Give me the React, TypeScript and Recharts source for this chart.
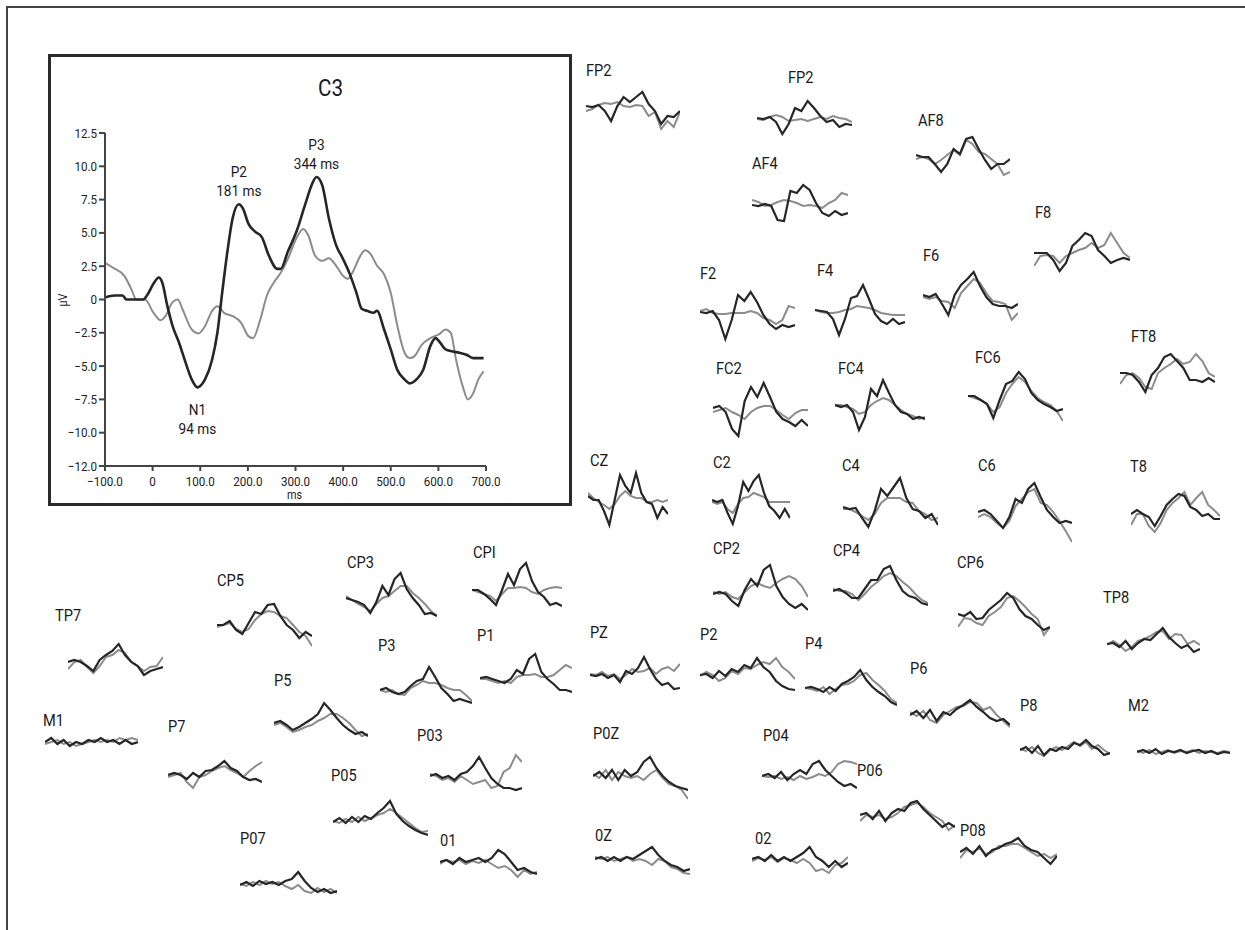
import React from "react";
import { LineChart, Line, XAxis, YAxis, ReferenceDot } from "recharts";

const FONT = "Roboto, 'Liberation Sans', sans-serif";
const DARK = "#262626";
const LIGHT = "#8c8c8c";

// C3 panel: dark and light waveforms (ms, µV)
const C3_DARK_MS = [-100, -80, -63, -55, -20, -12, 2, 13, 20, 31, 42, 56, 67, 82, 94, 100, 110, 125, 136, 146, 157, 168, 181, 190, 201, 215, 229, 244, 262, 269, 284, 302, 320, 334, 344, 356, 370, 385, 399, 413, 428, 439, 450, 464, 471, 486, 500, 514, 529, 540, 554, 568, 583, 594, 605, 615, 630, 644, 659, 673, 695];
const C3_DARK_UV = [0.15, 0.3, 0.3, 0, 0, 0.3, 1.2, 1.65, 1.3, -0.5, -2.0, -3.3, -4.5, -6.0, -6.6, -6.5, -6.0, -4.5, -2.5, 0.5, 3.6, 6.1, 7.15, 6.8, 5.7, 5.1, 4.7, 3.3, 2.3, 2.3, 3.6, 5.1, 7.1, 8.6, 9.2, 8.6, 6.1, 4.1, 3.1, 2.0, 0.5, -0.7, -0.85, -1.0, -0.85, -2.25, -3.75, -5.3, -6.0, -6.3, -6.0, -5.3, -3.5, -2.9, -3.3, -3.75, -3.9, -4.0, -4.15, -4.4, -4.4];
const C3_LIGHT_MS = [-100, -84, -59, -45, -34, -16, 2, 17, 27, 42, 53, 63, 82, 96, 110, 125, 136, 150, 168, 186, 201, 211, 226, 240, 255, 269, 284, 302, 316, 327, 341, 356, 370, 385, 399, 410, 420, 435, 446, 457, 471, 486, 500, 514, 529, 540, 550, 565, 583, 602, 615, 626, 637, 651, 662, 673, 684, 695];
const C3_LIGHT_UV = [2.75, 2.4, 1.75, 0.8, 0, 0, -1.0, -1.55, -1.25, -0.2, 0, -0.75, -2.25, -2.55, -2.0, -0.85, -0.5, -1.0, -1.25, -1.75, -2.75, -2.9, -1.5, 0.3, 1.3, 2.0, 3.05, 4.6, 5.3, 4.8, 3.3, 2.9, 3.1, 2.55, 1.8, 1.55, 2.05, 3.2, 3.7, 3.45, 2.55, 1.9, 0.5, -2.0, -4.0, -4.4, -4.25, -3.4, -2.9, -2.6, -2.25, -2.5, -4.5, -6.5, -7.5, -7.05, -6.0, -5.4];
const X_TICKS = [-100, 0, 100, 200, 300, 400, 500, 600, 700];
// the bottom tick sits at -12.5 but the figure prints it as -12.0
const Y_TICKS = [-12.5, -10, -7.5, -5, -2.5, 0, 2.5, 5, 7.5, 10, 12.5];
const Y_BOTTOM_TEXT = "\u221212.0";
const PEAK_NAMES = ["P2", "P3", "N1"];
const PEAK_MS = [181, 344, 94];
const PEAK_UV = [7.15, 9.2, -6.6];

// electrode traces (16 samples each, dark = first condition, light = second)
const FP2A_D = [4, 3, 5, -1, -11, 4, 13, 8, 13, 18, 6, -1, -14, -6, -7, -1];
const FP2A_L = [-1, 1, 5, 7, 6, 8, 4, 3, 5, 4, -6, -2, -19, -11, -17, -2];
const FP2B_D = [0, -1, 1, -4, -16, -6, 10, 7, 17, 10, 2, -4, -2, -9, -6, -7];
const FP2B_L = [-1, -2, 1, 3, 1, -3, -2, -1, -3, -1, 1, -1, 2, 0, -1, -4];
const AF4_D = [-2, -3, -1, -3, -17, -18, 12, 10, 18, 13, 0, -10, -13, -8, -12, -10];
const AF4_L = [3, 1, -3, -2, 1, 3, 2, 0, -3, -2, -3, -5, 0, 3, 10, 8];
const AF8_D = [2, 0, 0, -7, -15, -7, 8, 3, 18, 20, 8, -3, -12, -7, -7, -2];
const AF8_L = [-2, 0, -2, -7, -3, 2, 7, 2, 17, 13, 5, 3, -2, -7, -18, -15];
const F8_D = [0, 0, 0, -7, -18, -10, 7, 13, 20, 17, 3, -3, -10, -7, -5, -7];
const F8_L = [-13, -3, -2, -3, -10, -3, 0, 3, 5, 10, 5, 8, 20, 10, 0, -5];
const F2_D = [1, 0, 2, -7, -26, -7, 18, 12, 21, 11, -2, -11, -16, -12, -14, -12];
const F2_L = [2, 4, 0, -1, -1, 0, 0, 0, 2, 0, -5, -7, -11, -7, 7, 5];
const F4_D = [0, -1, -2, -9, -25, -9, 12, 14, 25, 11, -4, -11, -14, -9, -14, -12];
const F4_L = [0, -2, -3, -3, -2, 0, 1, 4, 3, 2, 0, -3, -4, -5, -5, -5];
const F6_D = [2, 0, 3, -7, -18, 2, 12, 18, 25, 11, 0, -7, -9, -9, -11, -7];
const F6_L = [0, -2, 0, -4, -5, -11, 4, 11, 18, 14, 4, -4, -5, -7, -23, -16];
const FT8_D = [0, 0, -2, -9, -19, -2, 5, 16, 19, 12, 5, -7, -7, -9, -5, -9];
const FT8_L = [-11, -2, 0, -5, -14, -16, 0, 5, 9, 14, 9, 11, 19, 12, 0, -4];
const FC2_D = [0, 2, -4, -21, -28, 7, 21, 11, 25, 11, -4, -11, -14, -18, -12, -18];
const FC2_L = [-4, -2, 0, -4, -7, -11, -4, 0, 2, 2, -2, -7, -11, -5, -2, -2];
const FC4_D = [0, -2, 0, -7, -25, -12, 16, 9, 25, 12, 0, -7, -9, -14, -12, -14];
const FC4_L = [0, 0, -2, -4, -9, -7, 0, 4, 7, 5, 0, -5, -9, -11, -14, -12];
const FC6_D = [4, 4, 0, -4, -18, 0, 16, 19, 28, 21, 7, 0, -4, -7, -11, -9];
const FC6_L = [4, 2, 0, -4, -12, -7, 7, 16, 23, 18, 9, 2, -2, -5, -11, -21];
const CZ_D = [4, 0, 0, -11, -25, 0, 25, 14, 7, 27, 7, -2, -4, -18, -7, -14];
const CZ_L = [7, 2, -2, -5, -9, -4, 4, 9, 4, 2, 2, -2, -2, 0, -2, 0];
const C2_D = [2, 0, 2, -11, -22, -4, 20, 11, 21, 27, 9, -4, -9, -16, -7, -16];
const C2_L = [0, -2, 0, -7, -11, -2, 4, 5, 9, 7, 5, 0, 0, 0, 0, 0];
const C4_D = [0, -2, -1, -11, -20, -4, 18, 11, 20, 29, 9, -2, -4, -11, -7, -18];
const C4_L = [-2, -2, -5, -9, -13, -7, 4, 9, 9, 9, 5, 4, -4, -7, -13, -11];
const C6_D = [-2, 0, -4, -11, -18, -7, 11, 7, 21, 27, 13, 0, -7, -13, -11, -13];
const C6_L = [-7, -4, -7, -13, -18, -11, 4, 11, 18, 21, 7, 5, -2, -11, -21, -32];
const T8_D = [-2, 2, -2, -5, -14, -4, 7, 13, 18, 16, 5, 2, -4, -2, -7, -7];
const T8_L = [-13, -2, -2, -14, -20, -11, 2, 9, 14, 20, 7, 14, 20, 7, 2, -4];
const CP2_D = [-4, -2, -4, -11, -16, 0, 11, 4, 20, 25, 4, -7, -14, -18, -14, -20];
const CP2_L = [-2, -4, -2, -7, -9, -2, 4, 7, 4, 2, 7, 11, 14, 11, 4, -7];
const CP4_D = [-2, 0, -4, -9, -9, 0, 9, 9, 20, 23, 9, -2, -7, -9, -14, -16];
const CP4_L = [0, -2, -2, -5, -11, -5, 2, 7, 13, 16, 13, 7, 2, -5, -11, -14];
const CP6_D = [0, -2, 2, -5, -4, 4, 9, 14, 21, 16, 5, -2, -5, -11, -16, -13];
const CP6_L = [-13, -4, -5, -9, -11, -2, 2, 7, 16, 18, 13, 7, 0, -5, -21, -13];
const TP8_D = [0, 1, -3, 3, -5, 1, 5, 4, 10, 16, 7, 1, -4, -1, -8, -5];
const TP8_L = [-1, 3, -1, -7, -3, 3, 5, 8, 12, 13, 5, 10, 9, 0, 3, -1];
const PZ_D = [0, -1, 1, -3, 0, -7, 4, 1, 7, 18, 6, -4, -10, -8, -14, -13];
const PZ_L = [1, 0, 3, -1, 1, -4, 0, 6, 3, 4, 7, 1, 6, 8, 4, 11];
const P2_D = [0, 1, -3, 4, -1, 6, 3, 10, 7, 17, 8, 3, -6, -11, -14, -15];
const P2_L = [-1, 3, 0, -6, -3, 4, 1, 7, 6, 10, 13, 11, 17, 8, 3, -4];
const P4_D = [0, 1, -1, -4, 1, -3, 4, 7, 11, 18, 8, 1, -4, -8, -14, -17];
const P4_L = [0, -1, -3, 1, -6, -1, 3, 4, 7, 13, 15, 8, 3, -3, -11, -15];
const P6_D = [0, 4, -3, 5, -6, 3, 0, 6, 10, 15, 8, 3, -3, -6, -4, -10];
const P6_L = [3, -1, 4, -5, -8, 0, 4, 8, 9, 13, 12, 5, 8, 0, -6, -12];
const P8_D = [0, 3, -3, 4, -5, 1, -1, 3, 1, 7, 5, 10, 4, 1, -5, -3];
const P8_L = [1, -1, 3, -3, -6, 0, 3, 0, 4, 8, 4, 8, 1, 5, 0, -4];
const M2_D = [0, 2, -1, 3, -2, 1, 0, 2, -1, 1, 2, -1, 1, -2, 0, -1];
const M2_L = [1, -1, 2, -2, 0, 2, -1, 1, 0, 2, -1, 1, 0, -1, 1, 0];
const TP7_D = [0, 2, 0, -4, -9, 2, 7, 11, 18, 7, 0, -4, -13, -9, -7, -5];
const TP7_L = [-7, 0, 2, -5, -11, -4, 5, 7, 12, 9, 0, -4, -9, -5, -4, 5];
const CP5_D = [0, 0, 4, -5, -9, 2, 13, 11, 20, 21, 9, 0, -5, -13, -7, -11];
const CP5_L = [-2, 0, 2, -4, -7, -4, 5, 11, 14, 13, 9, 7, 0, -7, -11, -21];
const CP3_D = [2, 0, -2, -5, -13, -2, 14, 5, 21, 27, 11, 2, -5, -14, -13, -16];
const CP3_L = [4, 0, -4, -7, -11, -4, 2, 4, 9, 14, 14, 7, 2, -4, -11, -16];
const CPI_D = [2, 2, -2, -7, -13, 2, 18, 7, 23, 29, 11, 0, -5, -13, -11, -14];
const CPI_L = [2, 0, -2, -4, -9, -2, 4, 4, 5, 4, 0, -2, 2, 4, 5, 4];
const P3_D = [0, 2, -2, -4, -2, 4, 9, 11, 23, 13, 2, -4, -11, -9, -11, -13];
const P3_L = [0, -2, 0, -4, -5, 2, 5, 9, 7, 7, 5, 2, 0, 0, -5, -11];
const P1_D = [1, 2, 0, -2, -4, 0, 9, 5, 20, 25, 7, 0, -5, -11, -11, -13];
const P1_L = [0, 0, -2, -4, -2, -4, 2, 4, 4, 5, 2, 2, 4, 9, 14, 11];
const P5_D = [0, 2, -2, -7, -4, 0, 4, 9, 20, 13, 5, -2, -7, -11, -9, -13];
const P5_L = [-2, 0, -4, -9, -7, -4, -2, 2, 5, 9, 9, 5, 0, -7, -13, -11];
const M1_D = [0, 4, -2, 2, -4, 0, -2, 2, 0, 4, 0, 2, -2, 2, -2, 0];
const M1_L = [-2, 0, 2, -2, 0, -4, -2, 0, 2, 0, 2, 0, 4, 2, 4, 2];
const P7_D = [0, 2, 0, -4, 2, -2, 4, 5, 9, 14, 7, 4, -2, -5, -4, -7];
const P7_L = [-2, 0, 2, -7, -13, -2, 0, 4, 7, 9, 5, 2, -2, 4, 9, 13];
const PO3_D = [0, 2, -2, 0, -4, 2, 4, 10, 19, 8, -2, -8, -12, -12, -14, -12];
const PO3_L = [2, 0, -4, -2, -6, 0, -4, -8, -6, -4, -12, -10, 4, 8, 21, 14];
const POZ_D = [0, 4, -2, 6, -4, 6, 0, 4, 14, 19, 8, 0, -6, -10, -12, -14];
const POZ_L = [2, -2, 6, -4, 4, 0, -2, 0, -4, 2, 6, -2, -8, -10, -14, -23];
const PO4_D = [0, 2, -2, 4, -4, 2, 6, 2, 12, 15, 6, 0, -6, -10, -8, -12];
const PO4_L = [0, -1, 0, -3, -1, -4, 0, -3, -1, 2, 0, 4, 12, 15, 14, 12];
const PO6_D = [0, 2, -4, 4, -6, 2, 6, 4, 12, 14, 6, 0, -6, -12, -8, -12];
const PO6_L = [-6, 0, -2, 0, -4, -2, 2, 8, 10, 12, 8, 2, -2, -6, -15, -10];
const PO8_D = [0, 4, -2, 6, -4, 2, 4, 8, 10, 14, 6, 2, 0, -6, -12, -4];
const PO8_L = [-6, 2, 0, 4, -2, 0, 6, 6, 8, 8, 4, 0, -4, -2, -6, -2];
const PO5_D = [0, 4, -1, 5, 0, 6, 3, 9, 14, 21, 8, 1, -4, -8, -11, -13];
const PO5_L = [1, -1, 3, 0, 5, 1, 4, 7, 9, 13, 9, 4, -1, -6, -10, -9];
const PO7_D = [0, 3, -1, 4, 1, 3, 0, 4, 6, 13, 4, -3, -7, -4, -8, -6];
const PO7_L = [1, -1, 3, 0, 4, 1, 3, -1, -4, 0, -6, -8, -3, -7, -4, -8];
const O1_D = [0, 2, -2, 4, 0, 2, 4, 0, 4, 12, 8, 0, -8, -6, -10, -12];
const O1_L = [-2, 2, 0, 2, -2, 1, -1, 2, -2, -6, -4, -8, -15, -8, -12, -10];
const OZ_D = [0, 2, -2, 2, -2, 2, 0, 4, 8, 12, 4, -2, -6, -8, -12, -10];
const OZ_L = [2, 0, 2, -2, 0, 2, -2, 0, -2, -6, 0, -2, -8, -10, -14, -15];
const O2_D = [0, 2, -2, 4, -2, 2, -2, 2, 6, 12, 2, -2, -8, -2, -8, -4];
const O2_L = [-2, 1, -1, 2, -3, 1, -1, -4, 0, -4, -12, -10, -14, -6, -4, 2];

// where each electrode sits on the page: label corner, trace left, width, baseline
const LAYOUT = [
  { name: "FP2", d: FP2A_D, l: FP2A_L, lx: 586, ly: 70, x: 586, w: 94, base: 110 },
  { name: "FP2", d: FP2B_D, l: FP2B_L, lx: 788, ly: 77, x: 757, w: 95, base: 118 },
  { name: "AF4", d: AF4_D, l: AF4_L, lx: 752, ly: 163, x: 752, w: 96, base: 203 },
  { name: "AF8", d: AF8_D, l: AF8_L, lx: 918, ly: 120, x: 916, w: 94, base: 157 },
  { name: "F8", d: F8_D, l: F8_L, lx: 1035, ly: 212, x: 1034, w: 96, base: 253 },
  { name: "F2", d: F2_D, l: F2_L, lx: 700, ly: 273, x: 700, w: 95, base: 313 },
  { name: "F4", d: F4_D, l: F4_L, lx: 817, ly: 270, x: 815, w: 90, base: 310 },
  { name: "F6", d: F6_D, l: F6_L, lx: 923, ly: 255, x: 923, w: 95, base: 297 },
  { name: "FT8", d: FT8_D, l: FT8_L, lx: 1131, ly: 336, x: 1120, w: 95, base: 373 },
  { name: "FC2", d: FC2_D, l: FC2_L, lx: 716, ly: 368, x: 713, w: 95, base: 408 },
  { name: "FC4", d: FC4_D, l: FC4_L, lx: 838, ly: 368, x: 835, w: 90, base: 405 },
  { name: "FC6", d: FC6_D, l: FC6_L, lx: 975, ly: 357, x: 968, w: 95, base: 400 },
  { name: "CZ", d: CZ_D, l: CZ_L, lx: 590, ly: 460, x: 588, w: 80, base: 500 },
  { name: "C2", d: C2_D, l: C2_L, lx: 713, ly: 462, x: 712, w: 78, base: 502 },
  { name: "C4", d: C4_D, l: C4_L, lx: 842, ly: 465, x: 843, w: 95, base: 507 },
  { name: "C6", d: C6_D, l: C6_L, lx: 978, ly: 465, x: 978, w: 94, base: 510 },
  { name: "T8", d: T8_D, l: T8_L, lx: 1130, ly: 466, x: 1131, w: 89, base: 512 },
  { name: "CP2", d: CP2_D, l: CP2_L, lx: 713, ly: 548, x: 713, w: 95, base: 590 },
  { name: "CP4", d: CP4_D, l: CP4_L, lx: 833, ly: 550, x: 833, w: 95, base: 589 },
  { name: "CP6", d: CP6_D, l: CP6_L, lx: 957, ly: 562, x: 958, w: 92, base: 614 },
  { name: "TP8", d: TP8_D, l: TP8_L, lx: 1103, ly: 597, x: 1107, w: 93, base: 644 },
  { name: "PZ", d: PZ_D, l: PZ_L, lx: 590, ly: 632, x: 590, w: 90, base: 675 },
  { name: "P2", d: P2_D, l: P2_L, lx: 700, ly: 634, x: 700, w: 95, base: 675 },
  { name: "P4", d: P4_D, l: P4_L, lx: 805, ly: 643, x: 805, w: 92, base: 688 },
  { name: "P6", d: P6_D, l: P6_L, lx: 910, ly: 668, x: 910, w: 100, base: 715 },
  { name: "P8", d: P8_D, l: P8_L, lx: 1020, ly: 705, x: 1020, w: 90, base: 750 },
  { name: "M2", d: M2_D, l: M2_L, lx: 1128, ly: 705, x: 1137, w: 93, base: 752 },
  { name: "TP7", d: TP7_D, l: TP7_L, lx: 55, ly: 615, x: 68, w: 95, base: 662 },
  { name: "CP5", d: CP5_D, l: CP5_L, lx: 217, ly: 580, x: 217, w: 95, base: 625 },
  { name: "CP3", d: CP3_D, l: CP3_L, lx: 347, ly: 562, x: 346, w: 91, base: 600 },
  { name: "CPI", d: CPI_D, l: CPI_L, lx: 473, ly: 552, x: 472, w: 90, base: 592 },
  { name: "P3", d: P3_D, l: P3_L, lx: 378, ly: 645, x: 380, w: 92, base: 690 },
  { name: "P1", d: P1_D, l: P1_L, lx: 477, ly: 635, x: 480, w: 92, base: 679 },
  { name: "P5", d: P5_D, l: P5_L, lx: 274, ly: 680, x: 274, w: 94, base: 723 },
  { name: "M1", d: M1_D, l: M1_L, lx: 43, ly: 720, x: 45, w: 93, base: 742 },
  { name: "P7", d: P7_D, l: P7_L, lx: 168, ly: 726, x: 168, w: 94, base: 775 },
  { name: "P05", d: PO5_D, l: PO5_L, lx: 331, ly: 775, x: 333, w: 95, base: 822 },
  { name: "P03", d: PO3_D, l: PO3_L, lx: 417, ly: 735, x: 430, w: 92, base: 776 },
  { name: "P0Z", d: POZ_D, l: POZ_L, lx: 593, ly: 733, x: 593, w: 95, base: 776 },
  { name: "P04", d: PO4_D, l: PO4_L, lx: 763, ly: 735, x: 762, w: 95, base: 776 },
  { name: "P06", d: PO6_D, l: PO6_L, lx: 857, ly: 770, x: 860, w: 95, base: 815 },
  { name: "P08", d: PO8_D, l: PO8_L, lx: 960, ly: 830, x: 960, w: 97, base: 852 },
  { name: "P07", d: PO7_D, l: PO7_L, lx: 240, ly: 838, x: 240, w: 97, base: 885 },
  { name: "01", d: O1_D, l: O1_L, lx: 440, ly: 840, x: 440, w: 97, base: 862 },
  { name: "0Z", d: OZ_D, l: OZ_L, lx: 595, ly: 835, x: 595, w: 95, base: 859 },
  { name: "02", d: O2_D, l: O2_L, lx: 755, ly: 838, x: 752, w: 96, base: 859 },
];

const signed = (v: number) => {
  if (v === 0) return "0";
  if (v === Y_TICKS[0]) return Y_BOTTOM_TEXT;
  return (v < 0 ? "\u2212" : "") + Math.abs(v).toFixed(1);
};

// condensed-looking tick text
const NarrowTick = ({ x, y, payload, textAnchor, dy }: any) => (
  <g transform={`translate(${x},${y}) scale(0.86,1)`}>
    <text x={0} y={0} dy={dy} textAnchor={textAnchor} fill="#222" fontSize={13.5} fontFamily={FONT}>
      {signed(payload.value)}
    </text>
  </g>
);

const PeakLabel = ({ viewBox, name, ms, below }: any) => {
  const x = viewBox.x;
  const y = viewBox.y;
  const y1 = below ? y + 28 : y - 27;
  const y2 = below ? y + 47 : y - 8;
  return (
    <g transform={`translate(${x},0) scale(0.88,1)`} fontFamily={FONT} fontSize={15.5} fill="#1a1a1a" textAnchor="middle">
      <text x={0} y={y1}>{name}</text>
      <text x={0} y={y2}>{ms} ms</text>
    </g>
  );
};

const labelStyle = (left: number, top: number, size: number): React.CSSProperties => ({
  position: "absolute",
  left,
  top,
  fontFamily: FONT,
  fontSize: size,
  color: "#1a1a1a",
  whiteSpace: "nowrap",
  transform: "scaleX(0.86)",
  transformOrigin: "left center",
  lineHeight: 1,
});

function MainPanel() {
  const dark = C3_DARK_MS.map((ms, i) => ({ ms, uv: C3_DARK_UV[i] }));
  const light = C3_LIGHT_MS.map((ms, i) => ({ ms, uv: C3_LIGHT_UV[i] }));
  return (
    <>
      <div style={{ position: "absolute", left: 48, top: 54, width: 524, height: 452, border: "3px solid #2a2a2a", boxSizing: "border-box" }} />
      <div style={labelStyle(318, 76, 24)}>C3</div>
      <div style={{ ...labelStyle(56, 294, 12), transform: "rotate(-90deg) scaleX(0.9)", transformOrigin: "center" }}>µV</div>
      <div style={{ ...labelStyle(287, 489, 12.5) }}>ms</div>
      <div style={{ position: "absolute", left: 40, top: 0 }}>
        <LineChart width={560} height={520} margin={{ top: 133, right: 114, bottom: 20, left: 0 }}>
          <XAxis
            dataKey="ms"
            type="number"
            domain={[-100, 700]}
            ticks={X_TICKS}
            allowDataOverflow
            height={34}
            tick={<NarrowTick textAnchor="middle" dy={13} />}
            stroke="#444"
            strokeWidth={2}
            tickSize={5}
          />
          <YAxis
            type="number"
            domain={[-12.5, 12.5]}
            ticks={Y_TICKS}
            allowDataOverflow
            width={65}
            tick={<NarrowTick textAnchor="end" dy={4.5} />}
            stroke="#444"
            strokeWidth={2}
            tickSize={6}
          />
          <Line data={light} dataKey="uv" type="monotone" stroke={LIGHT} strokeWidth={2} dot={false} isAnimationActive={false} />
          <Line data={dark} dataKey="uv" type="monotone" stroke={DARK} strokeWidth={2.6} dot={false} isAnimationActive={false} />
          {PEAK_NAMES.map((name, i) => (
            <ReferenceDot
              key={name}
              x={PEAK_MS[i]}
              y={PEAK_UV[i]}
              r={0}
              stroke="none"
              fill="none"
              label={(p: any) => <PeakLabel {...p} name={name} ms={PEAK_MS[i]} below={PEAK_UV[i] < 0} />}
            />
          ))}
        </LineChart>
      </div>
    </>
  );
}

function Trace({ t }: any) {
  const rows = t.d.map((v: number, i: number) => ({ i, d: v, l: t.l[i] }));
  return (
    <>
      <div style={labelStyle(t.lx, t.ly - 8, 17)}>{t.name}</div>
      <div style={{ position: "absolute", left: t.x, top: t.base - 36 }}>
        <LineChart width={t.w} height={72} data={rows} margin={{ top: 0, right: 0, bottom: 0, left: 0 }}>
          <XAxis dataKey="i" type="number" domain={[0, rows.length - 1]} hide />
          <YAxis type="number" domain={[-36, 36]} hide allowDataOverflow />
          <Line dataKey="l" type="linear" stroke={LIGHT} strokeWidth={2} dot={false} isAnimationActive={false} />
          <Line dataKey="d" type="linear" stroke={DARK} strokeWidth={2.2} dot={false} isAnimationActive={false} />
        </LineChart>
      </div>
    </>
  );
}

export default function App() {
  return (
    <div style={{ position: "absolute", left: 0, top: 0, width: 1245, height: 930, background: "#fff", overflow: "hidden" }}>
      <div style={{ position: "absolute", left: 6, top: 6, width: 1239, height: 2, background: "#444" }} />
      <div style={{ position: "absolute", left: 6, top: 6, width: 2, height: 924, background: "#444" }} />
      <MainPanel />
      {LAYOUT.map((t, i) => (
        <Trace key={i} t={t} />
      ))}
    </div>
  );
}
